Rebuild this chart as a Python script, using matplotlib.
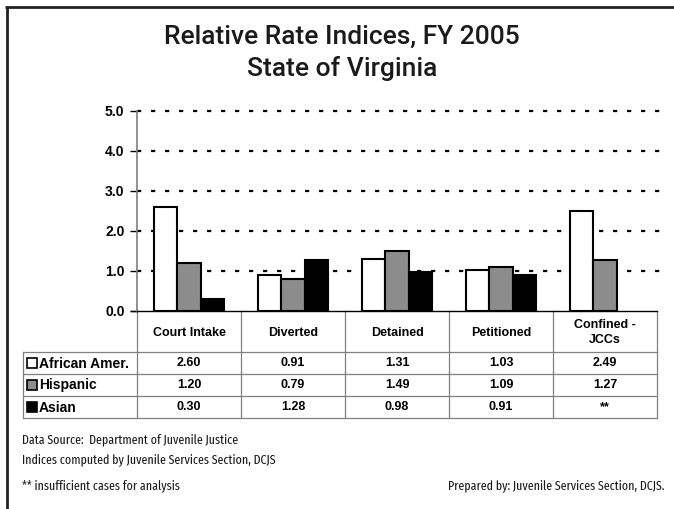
import matplotlib
matplotlib.use("Agg")
import matplotlib.pyplot as plt
import numpy as np

# ---- data ----
categories = ["Court Intake", "Diverted", "Detained", "Petitioned", "Confined -\nJCCs"]
groups = ["African Amer.", "Hispanic", "Asian"]
african_amer = [2.60, 0.91, 1.31, 1.03, 2.49]
hispanic = [1.20, 0.79, 1.49, 1.09, 1.27]
asian = [0.30, 1.28, 0.98, 0.91, None]   # None -> insufficient cases
yticks = [0.0, 1.0, 2.0, 3.0, 4.0, 5.0]

series = [african_amer, hispanic, asian]
colors = ["white", "#8c8c8c", "black"]

W, H = 674, 509
fig = plt.figure(figsize=(W / 100, H / 100), dpi=100)

TITLE = ["Roboto", "DejaVu Sans"]
NOTE = ["Fira Sans Extra Condensed", "Roboto Condensed", "DejaVu Sans"]
BOLD = ["Liberation Sans", "Arimo", "DejaVu Sans"]

# full-figure canvas in pixel units for frame, table and notes
ov = fig.add_axes([0, 0, 1, 1], zorder=0)
ov.set_xlim(0, W)
ov.set_ylim(H, 0)
ov.axis("off")

# plot area geometry (pixels)
px_left, px_right, px_top, px_bottom = 137, 657, 111, 311
ax = fig.add_axes([px_left / W, (H - px_bottom) / H,
                   (px_right - px_left) / W, (px_bottom - px_top) / H], zorder=1)
ax.patch.set_alpha(0)

n = len(categories)
x = np.arange(n)
bw = 0.227
for k, (vals, col) in enumerate(zip(series, colors)):
    xs = [xi + (k - 1) * bw for xi, v in zip(x, vals) if v is not None]
    hs = [v for v in vals if v is not None]
    ax.bar(xs, hs, width=bw, color=col, edgecolor="black", linewidth=1.5, zorder=3)

ax.set_xlim(-0.5, n - 0.5)
ax.set_ylim(0, 5)
ax.set_xticks([])
ax.set_yticks(yticks)
ax.set_yticklabels([f"{t:.1f}" for t in yticks], family=BOLD, fontweight="bold", fontsize=10)
ax.tick_params(axis="y", length=5, width=1, color="black", pad=4)
for y in yticks[1:]:
    ax.axhline(y, xmin=0, xmax=1.006, color="black", linewidth=1.6,
               linestyle=(0, (1.9, 4.4)), clip_on=False, zorder=1)
for s in ["top", "right"]:
    ax.spines[s].set_visible(False)
ax.spines["left"].set_color("#7f7f7f")
ax.spines["left"].set_linewidth(1.2)
ax.spines["bottom"].set_color("black")
ax.spines["bottom"].set_linewidth(1.0)
ax.plot([-0.5 - 6 / 104, -0.5], [0, 0], color="black", lw=1.0, clip_on=False)

# ---- data table beneath the chart ----
catw = (px_right - px_left) / n
bounds = [px_left + i * catw for i in range(n + 1)]
row_top = 352
row_h = 22
tbl_left = 23
grid_col = "#808080"
for b in bounds:
    ov.plot([b, b], [px_bottom, row_top + row_h * len(groups)], color=grid_col, lw=0.9)
ov.plot([tbl_left, tbl_left], [row_top, row_top + row_h * len(groups)], color=grid_col, lw=0.9)
for r in range(len(groups) + 1):
    yy = row_top + r * row_h
    ov.plot([tbl_left, bounds[-1]], [yy, yy], color=grid_col, lw=0.9)

for i, cat in enumerate(categories):
    cx = (bounds[i] + bounds[i + 1]) / 2
    ov.text(cx, (px_bottom + row_top) / 2 + 1, cat, ha="center", va="center",
            family=BOLD, fontweight="bold", fontsize=9, linespacing=1.4)

for r, (g, vals, col) in enumerate(zip(groups, series, colors)):
    cy = row_top + r * row_h + row_h / 2
    ov.add_patch(plt.Rectangle((27, cy - 5), 10, 10, facecolor=col,
                               edgecolor="black", lw=1.2))
    ov.text(39, cy + 0.5, g, ha="left", va="center", family=BOLD,
            fontweight="bold", fontsize=10)
    for i, v in enumerate(vals):
        cx = (bounds[i] + bounds[i + 1]) / 2
        ov.text(cx, cy + 0.5, "**" if v is None else f"{v:.2f}", ha="center",
                va="center", family=BOLD, fontweight="bold", fontsize=9)

# ---- frame, title and notes ----
ov.plot([5, W], [7, 7], color="#222222", lw=2.0, solid_capstyle="butt")
ov.plot([7, 7], [7, H], color="#222222", lw=2.0, solid_capstyle="butt")

ov.text(342, 37, "Relative Rate Indices, FY 2005", ha="center", va="center",
        family=TITLE, fontweight="medium", fontsize=19, color="#1a1a1a")
ov.text(342, 68, "State of Virginia", ha="center", va="center",
        family=TITLE, fontweight="medium", fontsize=19, color="#1a1a1a")

note_kw = dict(va="center", family=NOTE, fontsize=9.3, color="#1a1a1a")
ov.text(22, 440, "Data Source:  Department of Juvenile Justice", ha="left", **note_kw)
ov.text(22, 460, "Indices computed by Juvenile Services Section, DCJS", ha="left", **note_kw)
ov.text(22, 486, "** insufficient cases for analysis", ha="left", **note_kw)
ov.text(664, 486, "Prepared by: Juvenile Services Section, DCJS.", ha="right", **note_kw)

fig.savefig("out.png", dpi=100)
